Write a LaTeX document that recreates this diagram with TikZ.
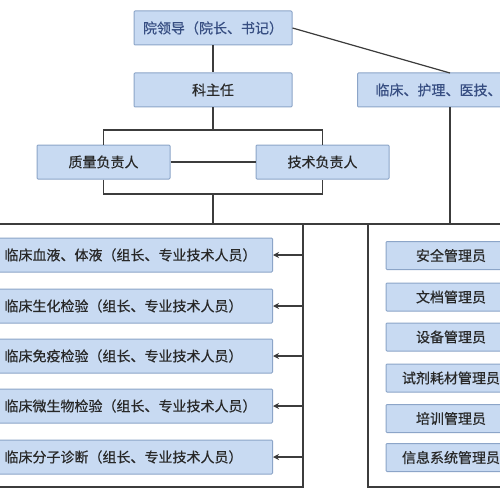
\documentclass[tikz,border=0pt]{standalone}
\usepackage{fontspec}
\setmainfont{Noto Sans CJK SC}[FakeBold=0.4]
\usetikzlibrary{arrows.meta}
\definecolor{boxfill}{RGB}{200,218,242}
\definecolor{boxline}{RGB}{140,165,200}
\definecolor{linec}{RGB}{60,60,60}
\definecolor{txtc}{RGB}{40,40,40}
\definecolor{bluetxt}{RGB}{55,78,130}
\tikzset{
  box/.style={draw=boxline, fill=boxfill, line width=1pt, rounded corners=1pt,
    font=\fontsize{14}{16}\selectfont, text=txtc, inner sep=0pt, minimum height=34pt},
  lbox/.style={box, minimum width=280pt, text width=256pt, align=left, anchor=east},
  rbox/.style={box, minimum width=130pt, minimum height=28pt},
  conn/.style={draw=linec, line width=1.2pt},
  arr/.style={conn, -{Stealth[length=6pt,width=6pt]}}
}
\begin{document}
\begin{tikzpicture}[x=1pt,y=-1pt]
\clip (0,0) rectangle (500,500);
\fill[white] (0,0) rectangle (500,500);
% containers
\draw[conn] (-10,224) rectangle (303,487);
\draw[conn] (368,224) rectangle (510,487);
\draw[conn] (303,224) -- (368,224);
% top boxes
\node[box, minimum width=158pt, text=bluetxt] (top) at (213,28) {院领导（院长、书记）};
\node[box, minimum width=158pt] (kzr) at (213,90) {科主任};
\node[box, minimum width=216pt, text width=180pt, align=left, anchor=west, text=bluetxt] (rtop) at (357,90) {临床、护理、医技、};
\node[box, minimum width=133pt] (zl) at (103.5,162) {质量负责人};
\node[box, minimum width=133pt] (js) at (322.5,162) {技术负责人};
% left boxes
\node[lbox] (l1) at (273,255) {临床血液、体液（组长、专业技术人员）};
\node[lbox] (l2) at (273,306) {临床生化检验（组长、专业技术人员）};
\node[lbox] (l3) at (273,356) {临床免疫检验（组长、专业技术人员）};
\node[lbox] (l4) at (273,406) {临床微生物检验（组长、专业技术人员）};
\node[lbox] (l5) at (273,457) {临床分子诊断（组长、专业技术人员）};
% right boxes
\node[rbox] (r1) at (451,255.5) {安全管理员};
\node[rbox] (r2) at (451,297) {文档管理员};
\node[rbox] (r3) at (451,337) {设备管理员};
\node[rbox] (r4) at (451,378) {试剂耗材管理员};
\node[rbox] (r5) at (451,418.5) {培训管理员};
\node[rbox] (r6) at (451,457.5) {信息系统管理员};
% coordinates
\coordinate (rj) at (450,73);
\coordinate (rb) at (450,107);
\coordinate (rc) at (450,224);
\coordinate (b1) at (213,130);
\coordinate (b2) at (213,194);
\coordinate (b3) at (213,224);
\coordinate (vx) at (303,0);
% connectors
\draw[conn] (top.south) -- (kzr.north);
\draw[conn] (top.east) -- (rj);
\draw[conn] (rb) -- (rc);
\draw[conn] (kzr.south) -- (b1);
\draw[conn] (zl.north) |- (b1) -| (js.north);
\draw[conn] (zl.east) -- (js.west);
\draw[conn] (zl.south) |- (b2) -| (js.south);
\draw[conn] (b2) -- (b3);
\foreach \n in {l1,l2,l3,l4,l5}{
  \draw[arr] (vx |- \n.east) -- (\n.east);
}
\end{tikzpicture}
\end{document}
